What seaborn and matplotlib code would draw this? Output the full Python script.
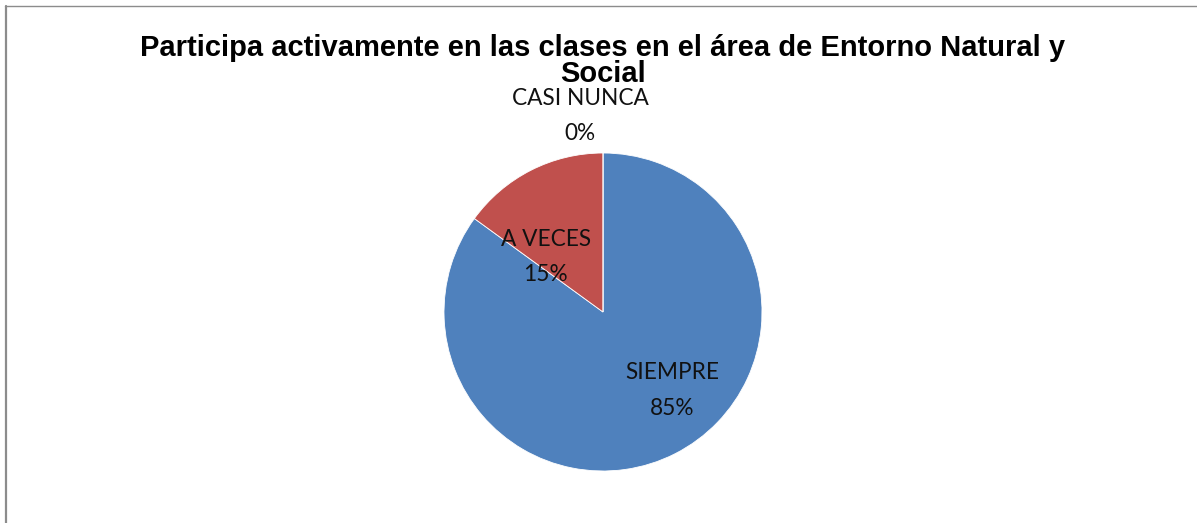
import matplotlib

matplotlib.use("Agg")
import matplotlib.pyplot as plt
import seaborn as sns
from matplotlib.lines import Line2D
import numpy as np

TITLE = "Participa activamente en las clases en el área de Entorno Natural y\nSocial"
CATEGORIES = ["SIEMPRE", "A VECES", "CASI NUNCA"]
PERCENTS = [85, 15, 0]
COLORS = ["#4F81BD", "#C0504D", "#9BBB59"]

# label positions (angle in degrees, distance as fraction of radius)
LABEL_POS = [(-48.5, 0.66), (136.0, 0.50), (96.7, 1.24)]

sns.set_theme(style="white")
plt.rcParams["font.family"] = ["Liberation Sans", "DejaVu Sans"]

W, H = 1197, 523
fig = plt.figure(figsize=(W / 100, H / 100), dpi=100)
fig.patch.set_facecolor("white")

cx, cy, r = 603, 312, 159
ax = fig.add_axes([(cx - r) / W, (H - cy - r) / H, 2 * r / W, 2 * r / H])
ax.pie(
    PERCENTS,
    colors=COLORS,
    startangle=90,
    counterclock=False,
    wedgeprops={"linewidth": 0.6, "edgecolor": "white"},
)
ax.set_xlim(-1, 1)
ax.set_ylim(-1, 1)
ax.set_aspect("auto")
ax.axis("off")

for cat, pct, (ang, dist) in zip(CATEGORIES, PERCENTS, LABEL_POS):
    a = np.deg2rad(ang)
    ax.text(
        dist * np.cos(a),
        dist * np.sin(a),
        f"{cat}\n{pct}%",
        ha="center",
        va="center",
        fontsize=16.3,
        family=["Lato", "DejaVu Sans"],
        linespacing=1.85,
        color="#111111",
        clip_on=False,
    )

fig.text(
    603 / W,
    1 - 61 / H,
    TITLE,
    ha="center",
    va="center",
    fontsize=21,
    fontweight="bold",
    linespacing=0.95,
    color="black",
)

# chart area border (left and top edges visible)
fig.add_artist(Line2D([5.5 / W, 5.5 / W], [0, 1 - 6 / H], color="#8c8c8c", linewidth=1.6))
fig.add_artist(Line2D([5 / W, 1], [1 - 6 / H, 1 - 6 / H], color="#8c8c8c", linewidth=1.0))

fig.savefig("out.png", dpi=100)
plt.close(fig)
